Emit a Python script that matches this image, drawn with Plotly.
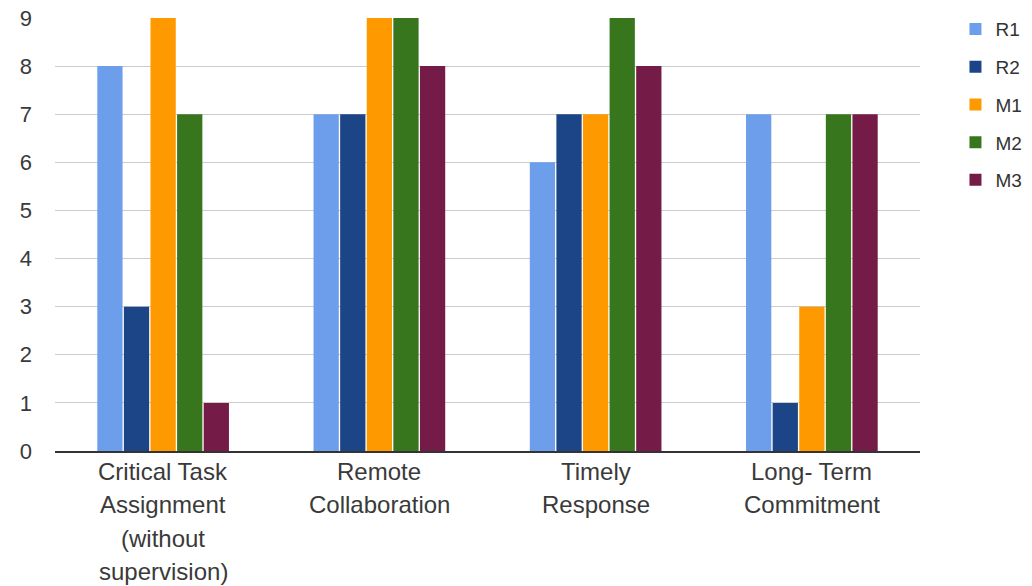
import plotly.graph_objects as go

categories = ["Critical Task Assignment (without supervision)", "Remote Collaboration",
              "Timely Response", "Long- Term Commitment"]
label_lines = [["Critical Task", "Assignment", "(without", "supervision)"],
               ["Remote", "Collaboration"],
               ["Timely", "Response"],
               ["Long- Term", "Commitment"]]
series_names = ["R1", "R2", "M1", "M2", "M3"]
R1 = [8, 7, 6, 7]
R2 = [3, 7, 7, 1]
M1 = [9, 9, 7, 3]
M2 = [7, 9, 9, 7]
M3 = [1, 8, 8, 7]
values = [R1, R2, M1, M2, M3]
colors = ["#6d9eeb", "#1c4587", "#ff9900", "#38761d", "#741b47"]
y_ticks = list(range(0, 10))

fig = go.Figure()
for name, vals, col in zip(series_names, values, colors):
    fig.add_trace(go.Bar(x=categories, y=vals, name=name, marker_color=col,
                         marker_line_width=0, legendgroup=name))

annotations = []
for cat, lines in zip(categories, label_lines):
    for i, ln in enumerate(lines):
        annotations.append(dict(x=cat, xref="x", y=0, yref="paper", text=ln,
                                showarrow=False, yanchor="middle", yshift=-20 - 33.5 * i,
                                font=dict(family="Liberation Sans, Arial", size=24, color="#3a3a3a")))

fig.update_layout(
    width=1032, height=586,
    margin=dict(l=55, r=112, t=18, b=135, autoexpand=False),
    paper_bgcolor="white", plot_bgcolor="white",
    barmode="group", bargap=0.385, bargroupgap=0.05,
    font=dict(family="Liberation Sans, Arial", size=20, color="#3a3a3a"),
    xaxis=dict(showticklabels=False, showgrid=False, showline=True, linecolor="#333",
               linewidth=2, ticks=""),
    yaxis=dict(range=[0, 9], tickvals=y_ticks, showgrid=True, gridcolor="#cccccc",
               gridwidth=1, zeroline=False, showline=False,
               tickfont=dict(size=22, color="#3a3a3a"), ticklabelstandoff=22),
    legend=dict(x=1.041, y=1.018, yanchor="top", xanchor="left", traceorder="grouped",
                tracegroupgap=10, font=dict(size=19, color="#333")),
    annotations=annotations,
)

fig.write_html("out.html")
